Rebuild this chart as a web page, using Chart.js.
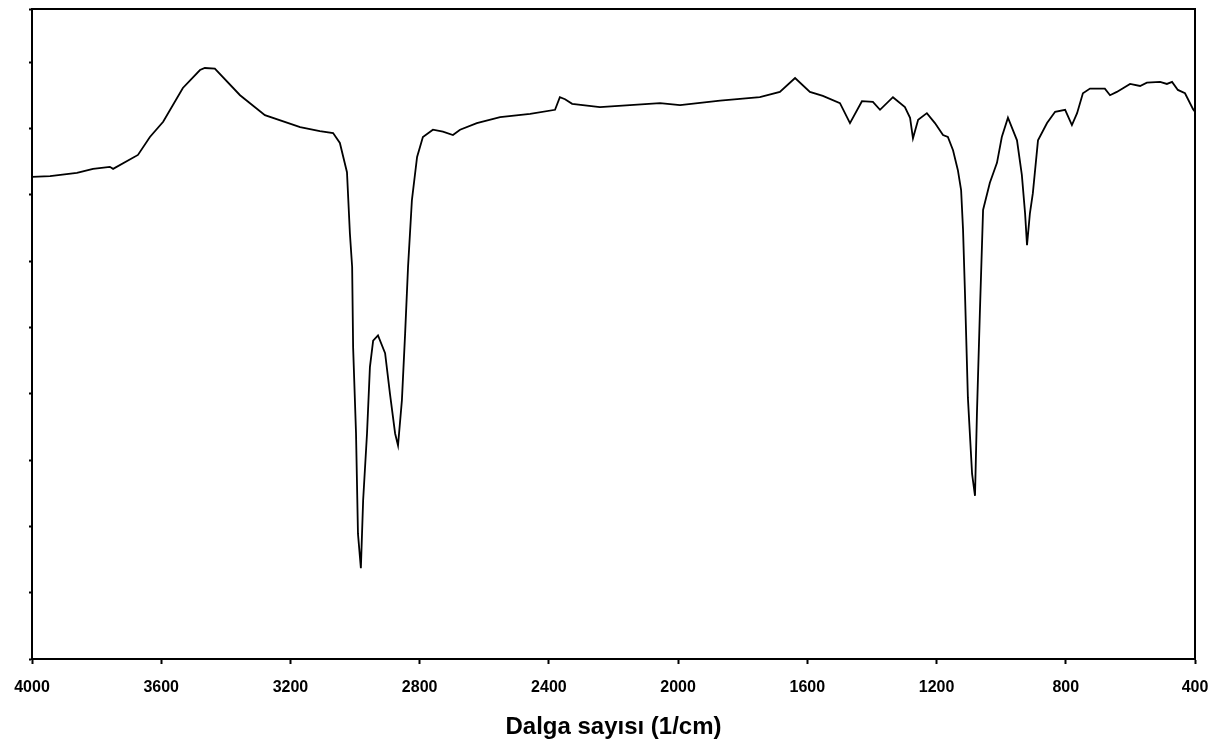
<!DOCTYPE html>
<html>
<head>
<meta charset="utf-8">
<script src="https://cdn.jsdelivr.net/npm/chart.js@4"></script>
<style>
  body { margin: 0; background: #fff; }
  #wrap { width: 1219px; height: 746px; }
</style>
</head>
<body>
<div id="wrap"><canvas id="ir-chart"></canvas></div>
<script>
// IR spectrum (wavenumber in 1/cm, transmittance in arbitrary units)
const wavenumbers = [4000, 3944, 3861, 3811, 3759, 3749, 3672, 3635, 3594, 3533, 3480, 3465, 3434, 3356, 3279, 3170, 3109, 3068, 3047, 3025,
  3016, 3009, 3006, 2997, 2991, 2982, 2975, 2963, 2954, 2944, 2929, 2907, 2892, 2876, 2867, 2855, 2845, 2836, 2824, 2808,
  2790, 2759, 2728, 2697, 2675, 2623, 2551, 2458, 2381, 2366, 2350, 2328, 2242, 2056, 1994, 1870, 1747, 1685, 1638, 1592,
  1552, 1499, 1468, 1431, 1397, 1375, 1335, 1298, 1282, 1273, 1257, 1230, 1205, 1180, 1165, 1149, 1134, 1124, 1118, 1112,
  1103, 1090, 1081, 1075, 1066, 1056, 1035, 1013, 998, 979, 951, 936, 926, 920, 911, 902, 886, 858, 833, 802,
  781, 765, 747, 725, 679, 663, 642, 601, 570, 549, 508, 487, 471, 453, 431, 406, 400];
const transmittance = [72.7, 72.8, 73.3, 73.9, 74.2, 73.9, 76.0, 78.7, 81.0, 86.1, 88.8, 89.1, 89.0, 85.0, 82.0, 80.2, 79.6, 79.3, 77.8, 73.4,
  64.2, 59.1, 47.0, 34.0, 18.9, 13.7, 23.9, 34.0, 44.0, 48.0, 48.8, 46.1, 40.0, 34.0, 32.2, 39.0, 49.1, 59.1, 69.2, 75.7,
  78.7, 79.8, 79.5, 79.0, 79.8, 80.8, 81.7, 82.2, 82.8, 84.7, 84.4, 83.7, 83.2, 83.8, 83.5, 84.2, 84.7, 85.5, 87.6, 85.5,
  84.9, 83.8, 80.8, 84.1, 84.0, 82.8, 84.7, 83.2, 81.6, 78.5, 81.3, 82.3, 80.8, 79.0, 78.7, 76.7, 73.7, 70.7, 64.7, 55.1,
  39.4, 27.9, 24.6, 37.0, 52.1, 67.7, 71.8, 74.8, 78.7, 81.6, 78.2, 73.0, 67.2, 62.4, 67.2, 70.2, 78.2, 80.8, 82.5, 82.8,
  80.5, 82.3, 85.3, 86.0, 86.0, 85.0, 85.5, 86.7, 86.4, 86.9, 87.0, 86.7, 87.0, 85.8, 85.3, 82.9, 82.5];
const xTicks = [4000, 3600, 3200, 2800, 2400, 2000, 1600, 1200, 800, 400];
const xTitle = 'Dalga sayısı (1/cm)';

const points = wavenumbers.map((w, i) => ({ x: w, y: transmittance[i] }));

const ctx = document.getElementById('ir-chart');
new Chart(ctx, {
  type: 'line',
  data: {
    datasets: [{
      data: points,
      borderColor: '#000',
      borderWidth: 1.8,
      pointRadius: 0,
      tension: 0,
      fill: false
    }]
  },
  options: {
    responsive: true,
    maintainAspectRatio: false,
    animation: false,
    layout: { padding: { left: 29, right: 24, top: 9, bottom: 4 } },
    plugins: { legend: { display: false }, tooltip: { enabled: false } },
    scales: {
      x: {
        type: 'linear',
        reverse: true,
        min: 400,
        max: 4000,
        afterBuildTicks: (axis) => { axis.ticks = xTicks.map(v => ({ value: v })); },
        afterFit: (axis) => { axis.paddingRight = 0; axis.paddingLeft = 0; },
        ticks: {
          color: '#000',
          font: { family: 'Liberation Sans', size: 16, weight: 'bold' },
          padding: 14,
          maxRotation: 0,
          callback: (v) => String(v)
        },
        grid: { drawOnChartArea: false, tickLength: 5, tickColor: '#000', tickWidth: 2 },
        border: { color: '#000', width: 2 },
        title: {
          display: true,
          text: xTitle,
          color: '#000',
          font: { family: 'Liberation Sans', size: 24, weight: 'bold' },
          padding: { top: 2, bottom: 0 }
        }
      },
      xTop: {
        type: 'linear',
        position: 'top',
        reverse: true,
        min: 400,
        max: 4000,
        ticks: { display: false },
        grid: { drawOnChartArea: false, drawTicks: false },
        border: { color: '#000', width: 2 }
      },
      y: {
        min: 0,
        max: 98,
        ticks: { display: false, stepSize: 10 },
        grid: { drawOnChartArea: false, tickLength: 3, tickColor: '#000', tickWidth: 2 },
        border: { color: '#000', width: 2 }
      },
      yRight: {
        position: 'right',
        min: 0,
        max: 98,
        ticks: { display: false },
        grid: { drawOnChartArea: false, drawTicks: false },
        border: { color: '#000', width: 2 }
      }
    }
  }
});
</script>
</body>
</html>
